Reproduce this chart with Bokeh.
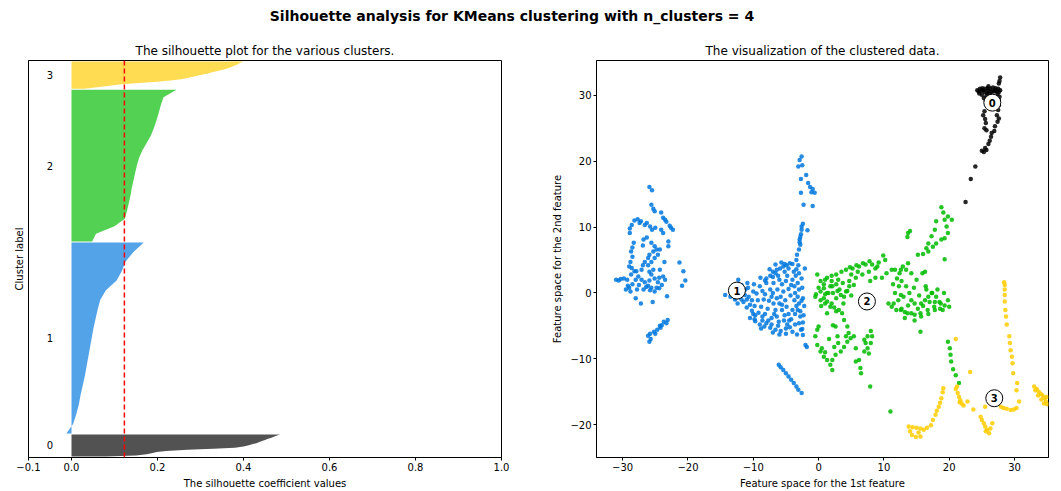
import numpy as np
from bokeh.plotting import figure
from bokeh.models import Span, Div, Range1d, FixedTicker, CustomJSTickFormatter
from bokeh.layouts import column, row
from bokeh.core.properties import value
from bokeh.embed import file_html
from bokeh.resources import INLINE

FONT = "DejaVu Sans"

# ---------------- data ----------------
suptitle = "Silhouette analysis for KMeans clustering with n_clusters = 4"
title_left = "The silhouette plot for the various clusters."
title_right = "The visualization of the clustered data."
cluster_names = ["0", "1", "2", "3"]
cluster_colors = ["#000000", "#0077dd", "#00bb00", "#ffcc00"]   # nipy_spectral(i/4)

# silhouette plot: cluster sizes (samples) and sorted silhouette values sampled evenly
cluster_sizes = [220, 1900, 1510, 270]
sil_c0 = [0.08, 0.15, 0.175, 0.186, 0.198, 0.22, 0.27, 0.33, 0.38, 0.40, 0.41,
          0.42, 0.43, 0.437, 0.443, 0.45, 0.457, 0.465, 0.472, 0.478, 0.485]
sil_c1 = [-0.012, 0.004, 0.011, 0.017, 0.021, 0.026, 0.031, 0.035, 0.039, 0.043, 0.047,
          0.051, 0.056, 0.061, 0.067, 0.08, 0.105, 0.117, 0.126, 0.144, 0.168]
sil_c2 = [0.048, 0.057, 0.10, 0.124, 0.129, 0.133, 0.137, 0.14, 0.144, 0.148, 0.152,
          0.157, 0.165, 0.175, 0.185, 0.192, 0.198, 0.203, 0.208, 0.214, 0.244]
sil_c3 = [0.03, 0.06, 0.085, 0.11, 0.15, 0.2, 0.23, 0.255, 0.272, 0.285, 0.30,
          0.315, 0.327, 0.34, 0.352, 0.365, 0.372, 0.38, 0.387, 0.393, 0.40]
sil_avg = 0.123
sil_xticks = [-0.1, 0.0, 0.2, 0.4, 0.6, 0.8, 1.0]

# scatter of clustered data
pts_blue = [
    (-25.9,16.1),(-25.5,15.6),(-25.6,13.4),(-25.3,12.8),(-25.1,12.4),(-24.1,12.2),(-23.8,11.4),(-23.3,10.8),
    (-22.8,10.2),(-22.3,9.6),(-23.5,11.1),(-22.6,9.9),(-28.9,9.1),(-28.6,10.3),(-28.2,11.0),(-27.7,11.2),
    (-27.2,10.9),(-26.6,10.3),(-26.3,10.6),(-25.8,10.1),(-25.5,9.6),(-28.9,9.8),(-24.1,9.6),(-23.8,9.1),
    (-26.8,8.1),(-26.3,8.4),(-23.0,7.8),(-23.0,7.1),(-25.6,7.6),(-25.1,7.1),(-24.8,6.6),(-25.3,6.3),
    (-25.9,5.8),(-26.1,5.3),(-26.6,4.7),(-26.9,4.2),(-27.1,3.5),(-26.1,4.2),(-25.6,4.7),(-25.1,5.3),
    (-24.6,5.8),(-24.3,6.6),(-25.3,3.5),(-25.6,2.8),(-25.9,1.9),(-25.1,2.2),(-24.6,1.6),(-24.8,0.8),
    (-25.6,0.8),(-26.1,1.1),(-26.6,1.6),(-27.1,2.0),(-27.6,2.5),(-27.9,3.3),(-28.5,6.9),(-28.7,6.3),
    (-28.5,5.5),(-28.8,4.7),(-28.6,3.8),(-28.7,2.8),(-28.2,3.3),(-28.0,2.0),(-28.5,1.3),(-29.0,0.8),
    (-29.5,0.5),(-29.2,1.1),(-31.0,2.0),(-30.6,1.9),(-30.3,2.1),(-29.8,2.2),(-29.3,2.0),(-28.8,0.2),
    (-27.8,0.5),(-26.8,0.5),(-25.8,0.4),(-25.1,0.2),(-24.4,0.7),(-24.3,3.5),(-23.8,2.5),(-23.5,2.0),
    (-24.4,2.3),(-28.0,-0.8),(-27.2,-1.6),(-25.4,-1.4),(-23.2,-0.5),(-21.3,4.6),(-20.7,3.3),(-20.4,1.9),
    (-20.9,1.1),(-23.6,4.7),(-23.1,-4.1),(-23.3,-4.6),(-24.0,-4.9),(-24.2,-5.3),(-24.7,-5.6),(-25.2,-5.9),
    (-25.8,-6.2),(-26.1,-6.5),(-25.7,-7.0),(-25.9,-7.4),(-25.0,-6.2),(-23.7,-4.4),
    (-27.4,10.6),(-25.0,9.9),(-26.9,7.2),(-25.9,3.2),(-27.5,1.2),(-24.0,1.2),(-28.3,7.6),(-29.0,4.0),
    (-26.4,0.9),(-24.3,-5.0),
    (-2.6,20.7),(-2.9,20.2),(-2.5,19.4),(-3.1,19.2),(-1.9,17.9),(-2.7,17.3),(-1.6,16.7),(-1.3,16.1),
    (-0.9,15.8),(-1.1,15.3),(-0.6,15.2),(-2.7,15.2),(-2.3,13.4),(-0.9,13.2),(-2.4,10.5),(-2.6,9.6),
    (-2.7,8.9),(-2.9,8.1),(-2.8,7.3),(-3.0,6.6),(-3.3,5.8),(-3.4,5.0),(-3.1,4.2),(-1.7,9.5),(-2.1,3.7),
    (-2.6,10.1),(-2.8,8.5),(-2.9,7.7),
    (-4.9,4.2),(-5.4,4.0),(-5.9,3.7),(-6.4,3.5),(-7.0,3.2),(-7.4,2.6),(-8.0,2.2),(-8.2,1.9),(-4.6,3.7),
    (-5.2,3.2),(-6.2,2.6),(-4.4,4.5),(-14.3,-0.3),(-13.5,-0.6),(-12.8,-1.0),(-12.7,-0.8),(-12.3,2.0),
    (-10.9,1.5),(-8.9,2.3),(-11.8,1.2),(-11.2,0.5),(-10.7,-0.6),(-11.5,-1.4),(-11.0,-2.2),(-10.2,-2.7),
    (-9.7,-3.4),(-10.5,-3.8),(-9.7,-4.3),(-9.0,-4.8),(-8.3,-5.1),(-7.4,-5.3),(-6.6,-5.6),(-6.2,-5.0),
    (-8.0,1.5),(-7.4,0.5),(-7.2,-0.6),(-6.9,-1.6),(-6.6,-2.6),(-6.4,-3.6),(-6.1,-4.4),(-5.6,1.3),
    (-5.4,0.2),(-5.1,-1.1),(-4.9,-2.1),(-4.6,-3.2),(-4.5,-4.2),(-4.4,-5.2),(-4.2,1.2),(-4.0,2.0),
    (-3.5,2.6),(-3.2,1.5),(-3.0,0.5),(-3.2,-0.6),(-3.0,-1.6),(-3.2,-2.6),(-2.8,-3.6),(-3.0,-4.6),
    (-2.7,-5.6),(-3.7,1.0),(-3.7,-1.1),(-3.6,-3.2),(-9.3,-1.1),(-8.8,-2.1),(-9.5,-0.1),(-9.0,1.0),
    (-9.9,1.3),(-10.2,-1.1),(-8.2,-3.2),(-7.7,-4.2),(-8.6,-4.2),(-5.3,-4.2),(-5.6,-2.6),(-6.0,-1.6),
    (-5.8,-0.6),(-6.3,0.5),(-6.9,1.5),(-7.0,-6.0),(-6.0,-6.3),(-5.0,-6.2),(-4.0,-5.9),(-3.3,-6.3),
    (-2.5,-5.5),(-2.4,-4.5),(-2.3,-3.4),(-2.2,-2.0),(-2.4,-0.8),(-2.5,0.8),(-2.6,2.2),(-2.0,-7.9),
    (-1.8,-8.2),(-12.0,-0.2),(-11.8,-1.0),(-10.8,0.8),(-10.0,0.2),(-8.6,0.3),(-8.4,-1.0),(-7.8,-2.4),
    (-7.2,-3.8),(-5.0,-5.4),(-3.6,-4.8),(-3.8,3.2),(-4.8,2.6),(-7.5,3.6),(-6.6,4.3),(-5.7,4.6),
    (-13.0,0.2),(-12.0,1.0),(-11.3,-0.3),(-10.5,-1.8),(-9.8,-2.0),(-9.2,-3.0),(-8.6,-3.6),(-8.0,-4.6),
    (-7.2,-4.8),(-6.8,-3.2),(-7.6,-1.2),(-8.2,-0.2),(-7.0,0.0),(-6.4,-0.8),(-5.6,-1.8),(-5.2,-3.4),
    (-4.8,-4.8),(-4.2,-4.0),(-4.0,-2.6),(-4.3,-0.4),(-4.6,0.6),(-5.0,1.8),(-6.0,2.0),(-7.0,2.4),
    (-3.4,-2.0),(-3.4,3.6),(-2.4,-6.4),(-5.8,-5.8),(-8.8,-5.4),(-9.8,-4.0),(-10.0,-3.2),(-11.0,-1.0),
    (-12.4,-1.6),(-5.2,4.4),(-4.0,4.4),(-3.6,0.0),(-2.6,-1.2),(-2.8,-2.8),(-3.0,3.0),(-6.6,3.0),
    (-6.1,-10.9),(-5.8,-11.3),(-5.4,-11.7),(-5.0,-12.2),(-4.6,-12.7),(-4.2,-13.2),(-3.8,-13.7),
    (-3.4,-14.2),(-3.1,-14.7),(-2.6,-15.2),
]
pts_green = [
    (0.3,1.8),(1.3,2.3),(2.7,2.8),(4.2,3.5),(5.2,3.7),(6.2,4.0),(7.2,4.3),(8.2,4.3),(9.2,4.6),(9.9,5.7),
    (10.2,5.0),(8.7,3.7),(7.7,3.2),(6.7,2.8),(5.7,2.3),(4.7,1.8),(3.7,1.5),(2.7,1.3),(1.8,1.0),(0.8,0.7),
    (0.3,0.2),(0.8,-0.8),(1.3,-1.3),(2.0,-1.6),(2.7,-0.8),(3.4,-0.3),(4.2,0.2),(4.7,1.0),(3.2,0.5),
    (2.2,0.0),(1.5,0.0),(-0.2,2.8),(10.4,3.0),(9.7,2.3),(8.7,2.3),(7.9,1.8),(2.7,-2.8),(2.2,-4.9),(1.3,-3.1),
    (11.7,3.5),(12.4,3.0),(12.7,1.8),(13.4,1.0),(13.9,0.0),(14.2,-1.1),(14.7,-1.6),(13.7,-1.9),(12.7,-2.4),
    (11.9,-2.6),(11.2,-2.1),(10.7,-1.6),(13.2,-2.9),(14.2,-3.1),(15.2,-2.4),(15.7,-1.6),(16.3,-1.1),
    (16.8,-0.6),(17.3,0.0),(16.5,0.5),(17.8,-1.4),(18.5,-1.4),(19.3,-1.9),(19.0,-2.6),(17.8,-2.6),
    (16.8,-3.2),(15.7,-3.6),(14.7,-4.2),(13.4,3.5),(13.7,4.5),(12.9,4.0),(11.7,0.0),(12.2,-1.1),(11.4,1.3),
    (15.2,5.8),(16.0,5.9),(16.8,6.3),(17.5,7.0),(18.0,7.5),(18.8,8.1),(19.3,8.3),(19.8,9.1),(19.6,10.1),
    (19.3,11.1),(19.1,12.2),(18.8,13.0),(19.8,11.6),(20.4,11.1),(18.0,10.9),(17.8,9.6),(17.3,8.6),
    (16.8,7.5),(16.5,6.8),(19.3,5.1),(16.3,3.2),(13.7,9.1),(13.6,8.5),(14.0,9.4),(11.2,3.5),
    (3.6,-3.1),(3.9,-4.1),(4.4,-5.1),(4.6,-6.1),(4.9,-6.9),(4.4,-7.4),(3.9,-8.2),(3.4,-8.9),(2.6,-9.4),
    (2.1,-10.2),(1.8,-10.9),(2.1,-11.7),(0.8,-9.7),(0.3,-8.9),(-0.2,-7.9),(-0.5,-6.6),(-0.2,-5.6),
    (0.0,-5.1),(0.5,-8.4),(1.3,-10.2),(3.1,-2.6),(2.6,-5.1),(2.9,-6.6),(7.0,-7.1),(7.5,-6.6),(8.0,-5.8),
    (8.2,-6.6),(8.0,-7.6),(7.5,-8.4),(7.0,-8.9),(7.7,-9.2),(5.4,-6.6),(5.7,-8.4),(6.2,-10.2),(6.4,-11.4),
    (-0.5,-0.6),(0.3,-1.1),(1.0,-1.6),(1.3,0.0),(0.8,1.3),(2.1,1.0),(2.9,0.3),(3.9,-0.6),(4.4,0.3),
    (1.8,-2.1),(11.5,-1.6),(12.6,-2.6),(13.6,-3.1),(14.7,-3.3),(15.6,-3.1),(16.7,-2.6),(17.7,-2.1),
    (18.7,-1.6),(19.8,-1.1),(20.0,-2.1),(19.2,0.0),(18.2,0.5),(17.4,0.0),(16.4,1.0),(15.9,3.0),(14.2,3.0),
    (12.6,3.5),(12.3,1.0),(12.6,-0.3),(15.6,-5.9),(19.8,-7.4),(20.1,-8.4),(20.2,-9.4),(20.3,-10.4),
    (20.6,-11.6),(21.0,-12.5),(21.5,-13.7),(7.9,-14.2),(11.0,-18.0),(5.7,-10.4),(6.5,-12.2),
    (1.0,2.0),(2.0,2.6),(3.5,3.2),(4.8,3.9),(5.8,4.2),(6.8,4.5),(7.8,4.8),(9.0,4.0),(6.0,3.2),(5.0,2.8),
    (3.0,2.0),(2.0,1.8),(1.0,-0.2),(0.0,0.8),(-0.4,-0.2),(0.4,-2.0),(2.4,-2.2),(3.8,-1.6),(5.0,-0.4),
    (5.4,1.2),(14.6,0.8),(15.4,-0.4),(16.0,-2.0),(17.0,-1.4),(18.0,-0.6),(13.0,-0.6),(12.0,2.2),(15.0,2.0),
    (13.2,-3.8),(18.6,-2.4),(3.0,-7.6),(1.0,-9.0),(1.6,-7.0),(2.4,-8.2),(4.2,-6.6),(7.2,-7.6),
]
pts_yellow = [
    (28.5,1.2),(28.5,0.5),(28.4,1.6),(28.5,-0.3),(28.5,-1.3),(28.6,-2.6),(28.7,-3.6),(28.8,-4.8),
    (29.2,-6.6),(29.3,-7.6),(29.4,-8.7),(29.6,-9.7),(29.7,-10.7),(29.8,-12.2),(30.4,-13.7),(30.3,-14.8),
    (30.7,-16.5),(28.3,-17.5),(28.8,-17.6),(29.4,-17.8),(29.9,-17.7),(30.3,-17.5),(27.9,-17.3),
    (33.0,-14.2),(33.4,-14.6),(33.7,-15.0),(34.0,-15.3),(34.3,-15.6),(34.6,-16.0),(34.8,-16.5),
    (34.5,-16.8),(34.1,-16.2),(33.6,-15.6),(33.2,-14.8),(34.9,-15.8),(35.0,-16.9),
    (19.1,-14.5),(19.0,-15.1),(18.8,-16.0),(18.6,-16.7),(18.4,-17.3),(18.1,-17.9),(17.9,-18.5),
    (17.5,-19.3),(17.2,-20.1),(16.6,-20.5),(16.1,-20.8),(15.6,-20.6),(15.0,-20.5),(14.4,-20.4),
    (13.8,-20.3),(14.3,-21.6),(14.9,-21.9),(15.6,-21.8),(14.0,-21.0),(15.3,-21.2),
    (21.2,-14.2),(21.0,-14.6),(21.3,-15.2),(21.5,-15.8),(21.7,-16.3),(21.9,-16.8),(22.2,-17.1),(21.6,-16.6),
    (24.8,-18.8),(25.0,-19.3),(25.3,-19.8),(25.5,-20.3),(25.8,-20.8),(26.1,-21.3),(25.6,-21.0),(26.3,-20.6),
    (21.0,-7.0),(23.2,-12.0),(22.8,-16.5),(23.7,-17.7),(25.5,-17.3),(26.6,-19.8),
]
pts_black = [
    (24.3,30.8),(24.7,31.0),(25.1,31.1),(25.5,31.0),(25.9,31.1),(26.3,31.0),(26.7,31.2),(27.1,31.1),
    (27.5,31.0),(27.8,30.8),(24.6,30.3),(25.0,30.1),(25.4,30.5),(25.8,30.4),(26.2,30.3),(27.4,30.2),
    (27.7,29.8),(27.6,29.3),(25.3,29.6),(25.6,29.2),(27.7,32.2),(27.8,32.7),(27.6,31.8),(26.0,30.7),
    (26.8,30.6),(24.9,30.7),(27.2,30.6),(27.6,28.5),(27.5,27.8),(27.3,27.0),(27.6,26.5),(27.4,26.0),
    (27.0,25.3),(26.9,24.6),(25.4,27.6),(25.2,27.0),(25.5,26.4),(25.6,25.8),(25.4,25.0),(25.7,24.7),
    (26.5,24.3),(26.4,23.7),(26.2,23.1),(26.0,22.6),(25.5,22.0),(25.0,21.6),(25.3,21.4),(25.7,21.7),
    (24.0,19.2),(23.3,17.3),(22.5,13.8),
    (26.0,31.4),(25.2,30.8),(26.5,30.6),(27.0,30.8),(24.5,30.6),(25.7,30.0),(26.4,30.0),(27.6,30.5),
]
centers_x = [26.6, -12.5, 7.4, 26.9]
centers_y = [28.9, 0.35, -1.3, -16.0]
feat_xticks = [-30, -20, -10, 0, 10, 20, 30]
feat_yticks = [-20, -10, 0, 10, 20, 30]

# ---------------- styling helpers ----------------
def style_axes(p):
    p.xgrid.visible = False
    p.ygrid.visible = False
    p.outline_line_color = "black"
    p.outline_line_alpha = 1.0
    p.outline_line_width = 1
    p.title.align = "center"
    p.title.text_font = FONT
    p.title.text_font_size = "12px"
    p.title.text_font_style = "normal"
    p.title.text_color = "black"
    p.title.standoff = 5
    for ax in p.xaxis + p.yaxis:
        ax.axis_line_color = "black"
        ax.major_tick_line_color = "black"
        ax.minor_tick_line_color = None
        ax.major_tick_out = 3
        ax.major_tick_in = 0
        ax.major_label_standoff = 2
        ax.axis_label_standoff = 4
        ax.major_label_text_font = FONT
        ax.major_label_text_font_size = "10px"
        ax.major_label_text_color = "black"
        ax.axis_label_text_font = FONT
        ax.axis_label_text_font_size = "10px"
        ax.axis_label_text_font_style = "normal"
        ax.axis_label_text_color = "black"

minus_fmt1 = CustomJSTickFormatter(code="return (tick < 0 ? '\\u2212' : '') + Math.abs(tick).toFixed(1);")
minus_fmt0 = CustomJSTickFormatter(code="return (tick < 0 ? '\\u2212' : '') + Math.abs(tick).toFixed(0);")

# ---------------- left: silhouette plot ----------------
gap = 10
total = sum(cluster_sizes) + gap * (len(cluster_sizes) + 1)
p1 = figure(width=520, height=455, x_range=Range1d(-0.1, 1.0), y_range=Range1d(0, total),
            title=title_left, output_backend="svg", toolbar_location=None,
            min_border_left=28, min_border_right=19, min_border_top=24, min_border_bottom=34)
style_axes(p1)
p1.xaxis.ticker = FixedTicker(ticks=sil_xticks)
p1.xaxis.formatter = minus_fmt1
p1.xaxis.axis_label = "The silhouette coefficient values"
p1.yaxis.ticker = FixedTicker(ticks=[])
p1.yaxis.major_tick_out = 0
p1.yaxis.axis_label = "Cluster label"

sil_values = [sil_c0, sil_c1, sil_c2, sil_c3]
y_lower = gap
label_y = []
for i, vals in enumerate(sil_values):
    size = cluster_sizes[i]
    vals = np.array(vals)
    ys = y_lower + np.linspace(0, 1, len(vals)) * size
    p1.harea(x1=np.zeros(len(vals)), x2=vals, y=ys,
             fill_color=cluster_colors[i], fill_alpha=0.68)
    label_y.append(y_lower + 0.5 * size)
    y_lower = y_lower + size + gap

p1.text(x=[-0.05] * len(cluster_names), y=label_y, text=cluster_names,
        text_align="center", text_baseline="middle",
        text_font=value(FONT), text_font_size="10px", text_color="black")
p1.add_layout(Span(location=sil_avg, dimension="height", line_color="red",
                   line_dash="5 3", line_width=1.5))

# ---------------- right: clustered data ----------------
p2 = figure(width=541, height=455, x_range=Range1d(-34.0, 35.2), y_range=Range1d(-25.0, 35.3),
            title=title_right, output_backend="svg", toolbar_location=None,
            min_border_left=76, min_border_right=13, min_border_top=24, min_border_bottom=34)
style_axes(p2)
p2.xaxis.ticker = FixedTicker(ticks=feat_xticks)
p2.yaxis.ticker = FixedTicker(ticks=feat_yticks)
p2.xaxis.formatter = minus_fmt0
p2.yaxis.formatter = minus_fmt0
p2.xaxis.axis_label = "Feature space for the 1st feature"
p2.yaxis.axis_label = "Feature space for the 2nd feature"

for pts, col in [(pts_blue, cluster_colors[1]), (pts_green, cluster_colors[2]),
                 (pts_yellow, cluster_colors[3]), (pts_black, cluster_colors[0])]:
    xs = [q[0] for q in pts]
    ys = [q[1] for q in pts]
    p2.scatter(xs, ys, size=4.5, fill_color=col, fill_alpha=0.85, line_color=None)

p2.scatter(centers_x, centers_y, size=17, marker="circle", fill_color="white",
           line_color="black", line_width=1)
p2.text(x=centers_x, y=centers_y, text=cluster_names, text_align="center",
        text_baseline="middle", text_font=value(FONT), text_font_size="10px",
        text_font_style="bold", text_color="black")

# ---------------- layout ----------------
head = Div(text=suptitle, width=1024, height=36, margin=(0, 0, 0, 0),
           styles={"font-family": FONT, "font-size": "14px", "font-weight": "bold",
                   "text-align": "center", "color": "black", "padding-top": "6px"})
layout = column(head, row(p1, p2))

open("out.html", "w").write(file_html(layout, INLINE))
